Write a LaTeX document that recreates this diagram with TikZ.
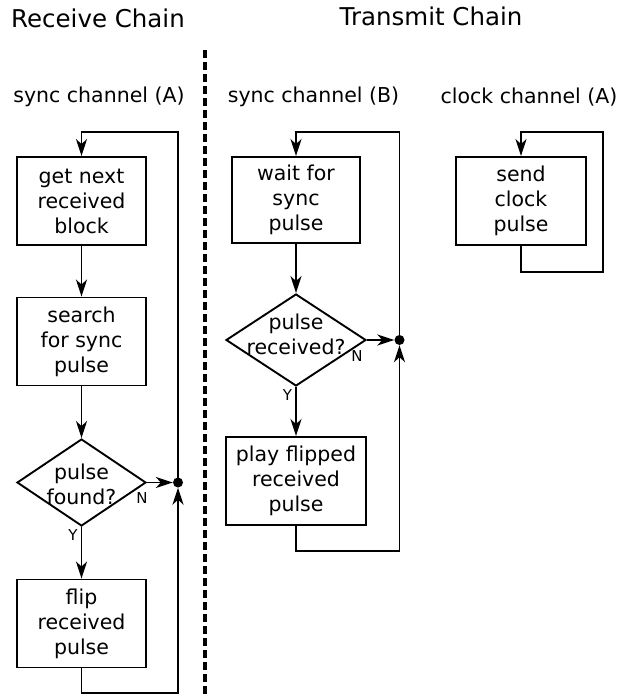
\documentclass[tikz,border=0pt]{standalone}
\usepackage{fontspec}
\setmainfont{DejaVu Sans}
\usetikzlibrary{shapes.geometric,arrows.meta}
\begin{document}
\begin{tikzpicture}[x=1pt,y=-1pt,
  every node/.style={font=\fontsize{20.5}{25}\selectfont, align=center},
  box/.style={draw, line width=1.9pt, minimum width=129, minimum height=88, inner sep=0},
  dia/.style={draw, diamond, line width=1.9pt, inner sep=0},
  conn/.style={line width=1.9pt, -{Stealth[length=17pt,width=11pt,inset=5pt]}},
  yn/.style={font=\fontsize{15}{17}\selectfont, inner sep=0},
  title/.style={font=\fontsize{24.5}{28}\selectfont},
  chan/.style={font=\fontsize{20.5}{25}\selectfont},
  dot/.style={circle, fill, inner sep=0, minimum size=10}]
\useasboundingbox (0,0) rectangle (629,698);

\node[title] (t1) at (98,18) {Receive Chain};
\node[title] (t2) at (431,16) {Transmit Chain};
\coordinate (dtop) at (205,50);
\coordinate (dbot) at (205,698);
\draw[line width=3.2pt, dash pattern=on 8pt off 4pt] (dtop) -- (dbot);

\node[chan] (c1) at (99,97) {sync channel (A)};
\node[chan] (c2) at (313.5,97) {sync channel (B)};
\node[chan] (c3) at (529,97) {clock channel (A)};

% left column
\node[box] (a1) at (81.5,201) {get next\\received\\block};
\node[box] (a2) at (81.5,341.5) {search\\for sync\\pulse};
\node[dia, minimum width=129, minimum height=87] (a3) at (81.5,482.5) {};
\node at ([yshift=-2]a3.center) {pulse\\found?};
\node[box] (a4) at (81.5,623.5) {flip\\received\\pulse};
\node[dot] (ad) at (178,482.5) {};
\coordinate (atop) at (178,132);
\coordinate (abot) at (178,693);
\draw[conn] (a1) -- (a2);
\draw[conn] (a2) -- (a3);
\draw[conn] (a3) -- (a4) node[yn, pos=0.16, left=3pt] {Y};
\draw[conn] (a3.east) -- (ad.west);
\node[yn] (an) at (142,498) {N};
\draw[conn] (a4.south) |- (abot) -- (ad.south);
\draw[conn] (ad.center) -- (atop) -| (a1.north);

% middle column
\node[box, minimum width=128, minimum height=86] (b1) at (296,200) {wait for\\sync\\pulse};
\node[dia, minimum width=140, minimum height=92] (b2) at (296,340) {};
\node at ([yshift=6]b2.center) {pulse\\received?};
\node[box, minimum width=140, minimum height=88] (b3) at (296,481) {play flipped\\received\\pulse};
\node[dot] (bd) at (399.5,340) {};
\coordinate (btop) at (399.5,132);
\coordinate (bbot) at (399.5,551);
\draw[conn] (b1) -- (b2);
\draw[conn] (b2) -- (b3) node[yn, pos=0.16, left=3pt] {Y};
\draw[conn] (b2.east) -- (bd.west);
\node[yn] (bn) at (357,356) {N};
\draw[conn] (b3.south) |- (bbot) -- (bd.south);
\draw[conn] (bd.center) -- (btop) -| (b1.north);

% right column
\node[box, minimum width=130] (r1) at (521,201) {send\\clock\\pulse};
\coordinate (rb) at (603,272);
\coordinate (rt) at (603,132);
\draw[conn] (r1.south) |- (rb) -- (rt) -| (r1.north);
\end{tikzpicture}
\end{document}
